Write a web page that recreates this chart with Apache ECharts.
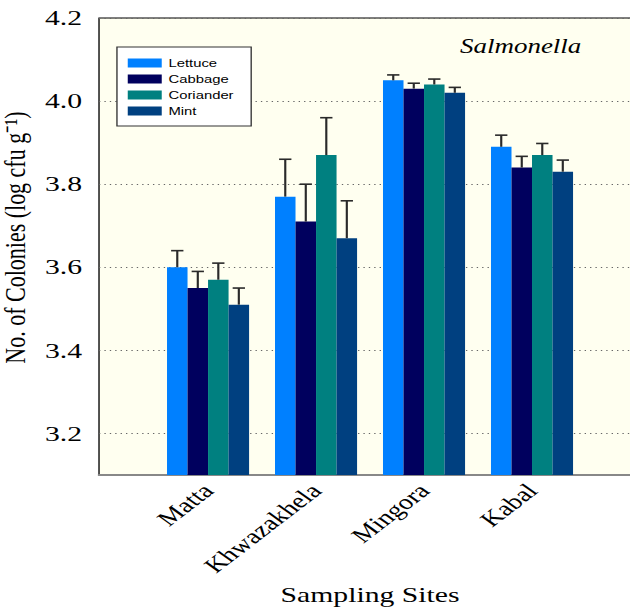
<!DOCTYPE html>
<html>
<head>
<meta charset="utf-8">
<script src="https://cdn.jsdelivr.net/npm/echarts@6/dist/echarts.min.js"></script>
<style>
  html, body { margin: 0; padding: 0; background: #fff; overflow: hidden; }
  #wrap { width: 630px; height: 612px; overflow: hidden; }
  /* the chart is laid out narrow and widened horizontally */
  #chart { width: 467px; height: 612px; transform: scaleX(1.349); transform-origin: 0 0; }
</style>
</head>
<body>
<div id="wrap"><div id="chart"></div></div>
<script>
// Sampling sites and vegetables
const sites = ['Matta', 'Khwazakhela', 'Mingora', 'Kabal'];
const vegetables = ['Lettuce', 'Cabbage', 'Coriander', 'Mint'];

// Mean counts (log cfu g-1)
const lettuce   = [3.60, 3.77, 4.05, 3.89];
const cabbage   = [3.55, 3.71, 4.03, 3.84];
const coriander = [3.57, 3.87, 4.04, 3.87];
const mint      = [3.51, 3.67, 4.02, 3.83];

// Standard deviations
const lettuceErr   = [0.04, 0.09, 0.013, 0.028];
const cabbageErr   = [0.04, 0.09, 0.013, 0.027];
const corianderErr = [0.04, 0.09, 0.013, 0.028];
const mintErr      = [0.04, 0.09, 0.013, 0.028];

// Y tick labels
const yTicks = [3.2, 3.4, 3.6, 3.8, 4.0, 4.2];

const colors = ['#0080FF', '#00005E', '#008080', '#004080'];
const means = [lettuce, cabbage, coriander, mint];
const errs = [lettuceErr, cabbageErr, corianderErr, mintErr];

const serif = 'Liberation Serif';
const GAP = 0.24; // barCategoryGap

function barSeries(k) {
  return {
    name: vegetables[k],
    type: 'bar',
    xAxisIndex: 1,
    yAxisIndex: 1,
    data: means[k],
    barGap: '0%',
    barCategoryGap: (GAP * 100) + '%',
    itemStyle: { color: colors[k] },
    z: 3
  };
}

function errorSeries(k) {
  return {
    name: vegetables[k] + ' SD',
    type: 'custom',
    xAxisIndex: 1,
    yAxisIndex: 1,
    z: 6,
    data: means[k].map((v, i) => [i, v, errs[k][i]]),
    renderItem(params, api) {
      const i = api.value(0), v = api.value(1), e = api.value(2);
      const band = api.size([1, 0])[0];
      const bw = band * (1 - GAP) / vegetables.length;
      const base = api.coord([i, v]);
      const top = api.coord([i, v + e]);
      const x = base[0] + (k - 1.5) * bw;
      const half = bw * 0.3;
      const st = { stroke: '#2a2a2a', lineWidth: 1.6 };
      return {
        type: 'group',
        children: [
          { type: 'line', shape: { x1: x, y1: base[1], x2: x, y2: top[1] }, style: st },
          { type: 'line', shape: { x1: x - half, y1: top[1], x2: x + half, y2: top[1] }, style: st }
        ]
      };
    }
  };
}

const chart = echarts.init(document.getElementById('chart'), null, { renderer: 'svg' });

chart.setOption({
  animation: false,
  backgroundColor: '#fff',
  title: {
    text: 'Salmonella',
    left: 336,
    top: 31,
    textStyle: { fontFamily: serif, fontStyle: 'italic', fontWeight: 'normal', fontSize: 20, color: '#000' }
  },
  legend: {
    data: vegetables,
    orient: 'vertical',
    left: 86.7,
    top: 47,
    padding: [10, 13, 9, 8],
    itemWidth: 25.2,
    itemHeight: 9,
    itemGap: 4,
    icon: 'rect',
    backgroundColor: '#fff',
    borderColor: '#333',
    borderWidth: 1,
    borderRadius: 0,
    textStyle: { fontFamily: 'Liberation Sans', fontSize: 11, lineHeight: 12, color: '#000' }
  },
  grid: [
    { left: 73.4, right: -20, top: 18, bottom: 137, show: true, backgroundColor: '#FFFFF0', borderColor: '#000', borderWidth: 1, outerBoundsMode: 'none', containLabel: false },
    { left: 114.2, right: 32.6, top: 18, bottom: 137, outerBoundsMode: 'none', containLabel: false }
  ],
  xAxis: [
    {
      gridIndex: 0, type: 'value', min: 0, max: 1,
      axisLine: { show: true, lineStyle: { color: '#888', width: 2 } },
      axisTick: { show: false }, axisLabel: { show: false }, splitLine: { show: false }
    },
    {
      gridIndex: 1, type: 'category', data: sites,
      axisLine: { show: false }, axisTick: { show: false },
      axisLabel: { rotate: 46, margin: 12, fontFamily: serif, fontSize: 21, color: '#000' },
      name: 'Sampling Sites', nameLocation: 'middle', nameGap: 109,
      nameTextStyle: { fontFamily: serif, fontSize: 22, color: '#000' }
    }
  ],
  yAxis: [
    {
      gridIndex: 0, type: 'value', min: 3.1, max: 4.2,
      axisLine: { show: false },
      axisTick: { show: false, customValues: yTicks },
      axisLabel: { customValues: yTicks, formatter: v => v.toFixed(1), margin: 12.6, fontFamily: serif, fontSize: 22, color: '#000' },
      splitLine: { show: true, lineStyle: { type: [1, 3], color: '#666', width: 1 } },
      name: 'No. of Colonies (log cfu g⁻¹)', nameLocation: 'middle', nameGap: 45,
      nameTextStyle: { fontFamily: serif, fontSize: 22, color: '#000', padding: [0, 0, 0, 18] }
    },
    {
      gridIndex: 1, type: 'value', min: 3.1, max: 4.2, show: false,
      splitLine: { show: false }
    }
  ],
  series: [
    barSeries(0), barSeries(1), barSeries(2), barSeries(3),
    errorSeries(0), errorSeries(1), errorSeries(2), errorSeries(3)
  ]
});
</script>
</body>
</html>
